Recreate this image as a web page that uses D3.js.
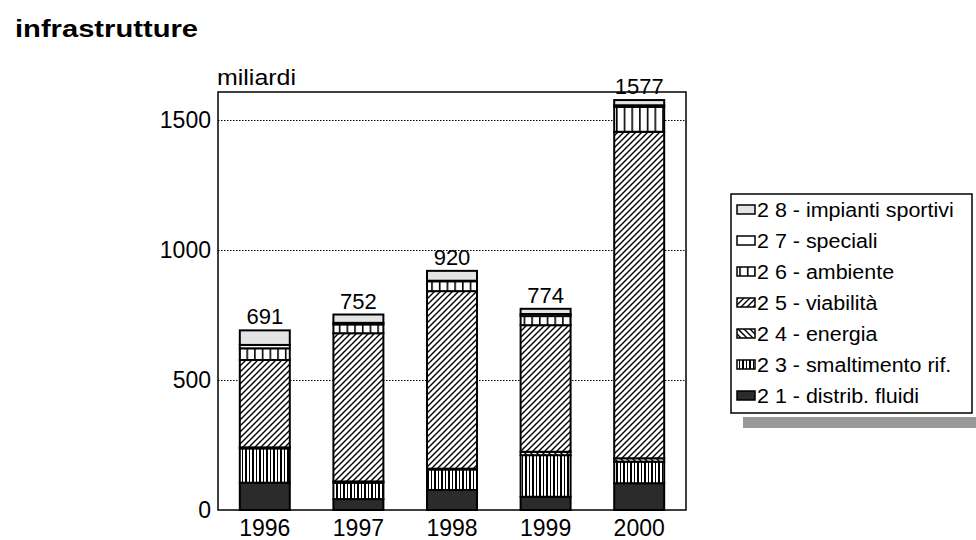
<html>
<head>
<style>
body{margin:0;background:#fff;}
text{font-family:"Liberation Sans",Arial,sans-serif;fill:#000;}
.grid{stroke:#000;stroke-width:1;stroke-dasharray:1.5,1.5;}
.seg{stroke:#000;stroke-width:2;}
</style>
</head>
<body>
<script src="https://d3js.org/d3.v7.min.js"></script>
<script>
var width=976, height=540;

// data (miliardi)
var years=["1996","1997","1998","1999","2000"];
var totals=[691,752,920,774,1577];
var distrib=[105,42,77,51,103];
var smaltimento=[132,63,79,160,83];
var energia=[4,5,3,13,13];
var viabilita=[336,570,683,487,1256];
var ambiente=[45,34,38,35,96];
var speciali=[13,6,2,8,6];
var sportivi=[56,32,38,20,20];
var yTicks=[0,500,1000,1500];

var keys=["distrib","smaltimento","energia","viabilita","ambiente","speciali","sportivi"];
var legendLabels={
    distrib:"2 1 - distrib. fluidi",
    smaltimento:"2 3 - smaltimento rif.",
    energia:"2 4 - energia",
    viabilita:"2 5 - viabilità",
    ambiente:"2 6 - ambiente",
    speciali:"2 7 - speciali",
    sportivi:"2 8 - impianti sportivi"
};
var series={distrib:distrib,smaltimento:smaltimento,energia:energia,viabilita:viabilita,
            ambiente:ambiente,speciali:speciali,sportivi:sportivi};

var rows=years.map(function(y,i){
    var r={year:y};
    keys.forEach(function(k){ r[k]=series[k][i]; });
    return r;
});

var svg=d3.select("body").append("svg")
    .attr("width",width)
    .attr("height",height);

// patterns
var defs=svg.append("defs");
function pattern(id,w,h){
    var p=defs.append("pattern").attr("id",id)
        .attr("patternUnits","userSpaceOnUse")
        .attr("width",w).attr("height",h);
    p.append("rect").attr("width",w).attr("height",h).attr("fill","#fff");
    return p;
}
var p1=pattern("pViab",6,6);
p1.append("path").attr("d","M-1,1 L1,-1 M0,6 L6,0 M5,7 L7,5")
    .attr("stroke","#000").attr("stroke-width",1.4);
var p2=pattern("pEnergia",6,6);
p2.append("path").attr("d","M-1,5 L1,7 M0,0 L6,6 M5,-1 L7,1")
    .attr("stroke","#000").attr("stroke-width",1.4);
var p3=pattern("pSmalt",7,7);
p3.append("rect").attr("x",0).attr("width",2).attr("height",7).attr("fill","#000");
p3.append("rect").attr("x",4).attr("width",1).attr("height",7).attr("fill","#000");
var p4=pattern("pAmb",7.7,7);
p4.append("rect").attr("x",0).attr("width",1.6).attr("height",7).attr("fill","#000");

var fills={
    distrib:"#2b2b2b",
    smaltimento:"url(#pSmalt)",
    energia:"url(#pEnergia)",
    viabilita:"url(#pViab)",
    ambiente:"url(#pAmb)",
    speciali:"#fff",
    sportivi:"#e4e4e4"
};

var x=d3.scaleBand().domain(years).range([218,686])
    .paddingInner(0.466).paddingOuter(0.233);
var y=d3.scaleLinear().domain([0,1608]).range([510,92]);

// title
svg.append("text").attr("x",15).attr("y",37)
    .attr("font-size",23).attr("font-weight","bold")
    .attr("textLength",183).attr("lengthAdjust","spacingAndGlyphs")
    .text("infrastrutture");

svg.append("text").attr("x",217).attr("y",85)
    .attr("font-size",22)
    .attr("textLength",79).attr("lengthAdjust","spacingAndGlyphs")
    .text("miliardi");

// grid
svg.selectAll(".grid").data(yTicks.filter(function(d){return d>0;}))
    .enter().append("line").attr("class","grid")
    .attr("x1",218).attr("x2",686)
    .attr("y1",function(d){return Math.round(y(d))+0.5;})
    .attr("y2",function(d){return Math.round(y(d))+0.5;});

// axes
var yAxis=svg.append("g").attr("transform","translate(218,0)")
    .call(d3.axisLeft(y).tickValues(yTicks).tickFormat(d3.format("d")).tickSize(0).tickPadding(7));
yAxis.select(".domain").remove();
yAxis.selectAll("text").attr("font-size",23).attr("font-family","Liberation Sans, Arial, sans-serif");

var xAxis=svg.append("g").attr("transform","translate(0,510)")
    .call(d3.axisBottom(x).tickSize(0).tickPadding(10));
xAxis.select(".domain").remove();
xAxis.selectAll("text").attr("font-size",23).attr("font-family","Liberation Sans, Arial, sans-serif");

// bars
var stack=d3.stack().keys(keys)(rows);
svg.append("g").selectAll("g").data(stack).enter().append("g")
    .attr("fill",function(d){return fills[d.key];})
    .selectAll("rect").data(function(d){return d;}).enter().append("rect")
    .attr("class","seg")
    .attr("x",function(d){return x(d.data.year);})
    .attr("width",x.bandwidth())
    .attr("y",function(d){return y(d[1]);})
    .attr("height",function(d){return y(d[0])-y(d[1]);});

// totals
svg.selectAll(".tot").data(years).enter().append("text")
    .attr("class","tot")
    .attr("x",function(d){return x(d)+x.bandwidth()/2;})
    .attr("y",function(d,i){return y(totals[i])-6;})
    .attr("text-anchor","middle")
    .attr("font-size",22)
    .text(function(d,i){return totals[i];});

// frame
svg.append("rect").attr("x",218).attr("y",92).attr("width",468).attr("height",418)
    .attr("fill","none").attr("stroke","#000").attr("stroke-width",1.5);

// legend
var lg=svg.append("g");
lg.append("rect").attr("x",743).attr("y",417).attr("width",240).attr("height",11)
    .attr("fill","#999");
lg.append("rect").attr("x",731).attr("y",194).attr("width",241).attr("height",219)
    .attr("fill","#fff").attr("stroke","#000").attr("stroke-width",1.5);
var legKeys=keys.slice().reverse();
var items=lg.selectAll(".li").data(legKeys).enter().append("g")
    .attr("transform",function(d,i){return "translate(0,"+(217+i*31)+")";});
items.append("rect").attr("x",737).attr("y",-12).attr("width",18).attr("height",9)
    .attr("fill",function(d){return fills[d];})
    .attr("stroke","#000").attr("stroke-width",1.5);
items.append("text").attr("x",757).attr("y",0)
    .attr("font-size",19.5)
    .text(function(d){return legendLabels[d];})
    .each(function(){
        var w=this.getComputedTextLength();
        d3.select(this).attr("textLength",w*1.1).attr("lengthAdjust","spacingAndGlyphs");
    });
</script>
</body>
</html>
